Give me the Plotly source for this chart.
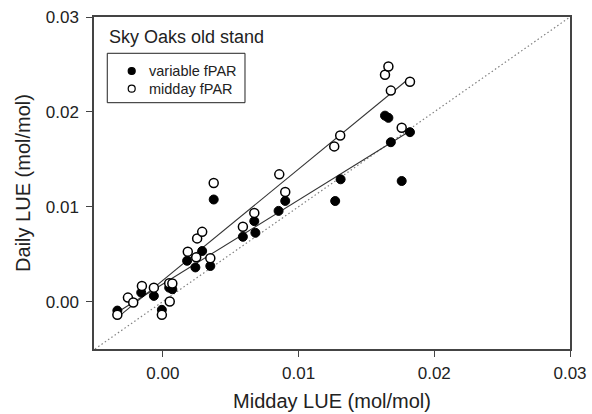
import numpy as np
import plotly.graph_objects as go

# Variable fPAR (filled circles)
var_x = [-0.00335, -0.00159, -0.00066, -0.00007, 0.00047, 0.00070, 0.00179, 0.00290,
         0.00240, 0.00350, 0.00375, 0.00590, 0.00674, 0.00682, 0.00853, 0.00902,
         0.01270, 0.01310, 0.01637, 0.01662, 0.01680, 0.01760, 0.01821]
var_y = [-0.00095, 0.00095, 0.00060, -0.00087, 0.00147, 0.00130, 0.00430, 0.00533,
         0.00360, 0.00375, 0.01076, 0.00683, 0.00848, 0.00725, 0.00956, 0.01061,
         0.01060, 0.01289, 0.01960, 0.01937, 0.01680, 0.01271, 0.01786]

# Midday fPAR (open circles)
mid_x = [-0.00335, -0.00257, -0.00218, -0.00154, -0.00066, -0.00007, 0.00051, 0.00047,
         0.00070, 0.00184, 0.00253, 0.00290, 0.00246, 0.00350, 0.00375, 0.00590,
         0.00674, 0.00858, 0.00902, 0.01263, 0.01307, 0.01637, 0.01662, 0.01680,
         0.01760, 0.01821]
mid_y = [-0.00140, 0.00042, -0.00010, 0.00165, 0.00147, -0.00140, 0.00000, 0.00193,
         0.00190, 0.00525, 0.00666, 0.00735, 0.00466, 0.00456, 0.01250, 0.00788,
         0.00935, 0.01341, 0.01155, 0.01636, 0.01750, 0.02392, 0.02479, 0.02224,
         0.01832, 0.02318]

one_to_one = [-0.005, 0.03]
tick_vals = [0.0, 0.01, 0.02, 0.03]
tick_text = ["0.00", "0.01", "0.02", "0.03"]
legend_labels = ["variable fPAR", "midday fPAR"]
legend_fill = ["black", "white"]

FONT = "Liberation Sans, Arial, Helvetica, sans-serif"
INK = "#222222"

fig = go.Figure()

# 1:1 line
fig.add_trace(go.Scatter(x=one_to_one, y=one_to_one, mode="lines",
                         line=dict(color="#808080", width=1.2, dash="1.5px,2.5px"),
                         showlegend=False, hoverinfo="skip"))

# regression lines from the data
for xs, ys in ((var_x, var_y), (mid_x, mid_y)):
    xa, ya = np.array(xs), np.array(ys)
    b, a = np.polyfit(xa, ya, 1)
    xl = np.array([xa.min(), xa.max()])
    fig.add_trace(go.Scatter(x=xl, y=a + b * xl, mode="lines",
                             line=dict(color="#333333", width=1.1),
                             showlegend=False, hoverinfo="skip"))

fig.add_trace(go.Scatter(x=var_x, y=var_y, mode="markers", name="variable fPAR",
                         showlegend=False,
                         marker=dict(symbol="circle", size=9, color="black",
                                     line=dict(color="black", width=1))))
fig.add_trace(go.Scatter(x=mid_x, y=mid_y, mode="markers", name="midday fPAR",
                         showlegend=False,
                         marker=dict(symbol="circle", size=9, color="white",
                                     line=dict(color="black", width=1.5))))

axis_common = dict(
    showline=True, linecolor="#444444", linewidth=1.5, mirror=True,
    ticks="outside", ticklen=6, tickwidth=1.2, tickcolor="#444444",
    showgrid=False, zeroline=False, automargin=False,
    ticklabeloverflow="allow",
    tickvals=tick_vals, ticktext=tick_text,
    tickfont=dict(family=FONT, size=17, color=INK),
)

# manual legend box (paper coordinates of the plot area)
shapes = [dict(type="rect", xref="paper", yref="paper",
               x0=0.0279, x1=0.3172, y0=0.7419, y1=0.8907,
               line=dict(color="#222222", width=1), fillcolor="white", layer="above")]
annotations = [dict(text="Sky Oaks old stand", xref="paper", yref="paper",
                    x=0.028, y=0.9407, xanchor="left", yanchor="middle",
                    showarrow=False, font=dict(family=FONT, size=18, color=INK))]
legend_y = [0.8373, 0.7840]
for lab, fill, ly in zip(legend_labels, legend_fill, legend_y):
    shapes.append(dict(type="circle", xref="paper", yref="paper",
                       xsizemode="pixel", ysizemode="pixel",
                       xanchor=0.0792, yanchor=ly,
                       x0=-3.5, x1=3.5, y0=-3.5, y1=3.5,
                       fillcolor=fill, line=dict(color="black", width=1.2),
                       layer="above"))
    annotations.append(dict(text=lab, xref="paper", yref="paper",
                            x=0.112, y=ly, xanchor="left", yanchor="middle",
                            showarrow=False,
                            font=dict(family=FONT, size=14.5, color=INK)))

fig.update_layout(
    width=592, height=414,
    margin=dict(l=94, r=22, t=17, b=65),
    paper_bgcolor="white", plot_bgcolor="white",
    font=dict(family=FONT, color=INK),
    showlegend=False,
    xaxis=dict(range=[-0.00507, 0.03], title=dict(text="Midday LUE (mol/mol)",
               font=dict(family=FONT, size=20, color=INK), standoff=12),
               ticklabelstandoff=2, **axis_common),
    yaxis=dict(range=[-0.005, 0.03], title=dict(text="Daily LUE (mol/mol)",
               font=dict(family=FONT, size=20, color=INK), standoff=10),
               ticklabelstandoff=4, **axis_common),
    shapes=shapes,
    annotations=annotations,
)

# remove the page's default body margin so the 592x414 figure fills the window
fig.write_html("out.html",
               config={"displayModeBar": False},
               post_script="document.body.style.margin='0';"
                           "document.body.style.overflow='hidden';")
